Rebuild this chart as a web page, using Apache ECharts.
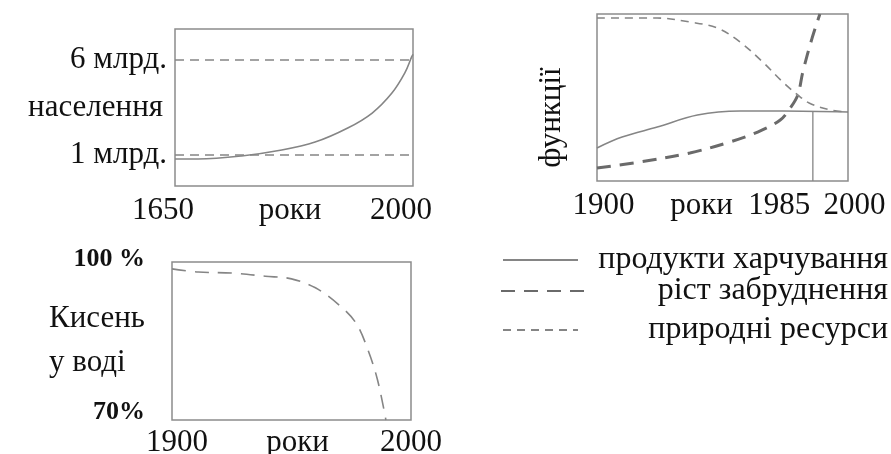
<!DOCTYPE html>
<html>
<head>
<meta charset="utf-8">
<script src="https://cdn.jsdelivr.net/npm/echarts@6/dist/echarts.min.js"></script>
<style>
html, body { margin: 0; padding: 0; background: #fff; }
#main { width: 891px; height: 454px; }
</style>
</head>
<body>
<div id="main"></div>
<script>
// населення (млрд.)
const popYears = [1650, 1684, 1748, 1807, 1856, 1904, 1940, 1969, 1988, 1998, 2000]
const popValues = [0.79, 0.79, 0.95, 1.26, 1.68, 2.42, 3.21, 4.26, 5.32, 6.16, 6.3]
const popRefLines = [1, 6]
const popYTicks = [1, 6]
const popYLabels = ['1 млрд.', '6 млрд.']
const popXTicks = [1650, 2000]
const popXLabels = ['1650', '2000']

// функції
const foodYears = [1900, 1910, 1924, 1940, 1957, 1974, 2000]
const foodValues = [19.8, 26.3, 32.3, 39.5, 41.9, 41.9, 41.3]
const pollutionYears = [1900, 1917, 1937, 1953, 1964, 1973, 1977, 1980, 1982, 1985.7, 1988.8]
const pollutionValues = [7.8, 11.4, 16.8, 23.4, 29.3, 36.5, 43.7, 51.5, 65.3, 85.6, 100]
const resourceYears = [1900, 1924, 1937, 1948, 1957, 1966, 1974, 1980, 1984.5, 1993, 2000]
const resourceValues = [97.6, 97.6, 95.2, 91.6, 83.2, 71.3, 59.3, 51.5, 46.7, 42.5, 41.3]
const markerYears = [1986, 1986]
const markerValues = [0, 41.3]
const fnXTicks = [1900, 1985, 2000]
const fnXLabels = ['1900', '1985', '2000']
const seriesNames = ['продукти харчування', 'ріст забруднення', 'природні ресурси']

// кисень у воді (%)
const oxyYears = [1900, 1911, 1925, 1939, 1950, 1960, 1970, 1977, 1982, 1986, 1989.5]
const oxyValues = [98.7, 98.1, 97.9, 97.3, 96.8, 95.1, 91.8, 88.4, 83.3, 77.6, 70]
const oxyYTicks = [70, 100]
const oxyYLabels = ['70%', '100 %']
const oxyXTicks = [1900, 2000]
const oxyXLabels = ['1900', '2000']

const FONT = 'Liberation Serif'
const INK = '#111'
const LINE = '#858585'
const BOX = '#8c8c8c'

function pairs(xs, ys) {
  return xs.map((x, i) => [x, ys[i]])
}

function pick(values, labels) {
  return function(v) {
    for (let i = 0; i < values.length; i++) {
      if (Math.abs(values[i] - v) < 1e-6) return labels[i]
    }
    return ''
  }
}

const txt = { fontFamily: FONT, fontSize: 31, color: INK }

const gridBase = {
  show: true,
  borderColor: BOX,
  borderWidth: 1.5,
  backgroundColor: '#fff',
  containLabel: false,
  outerBoundsMode: 'none'
}

function xAxisOf(gridIndex, min, max, ticks, labelFn, rich, namePad, gap) {
  return {
    type: 'value',
    gridIndex,
    min,
    max,
    name: 'роки',
    nameLocation: 'middle',
    nameGap: gap + 16,
    nameMoveOverlap: false,
    nameTextStyle: Object.assign({ padding: namePad, verticalAlign: 'middle' }, txt),
    axisLine: { show: false },
    axisTick: { show: false },
    splitLine: { show: false },
    axisLabel: Object.assign({}, txt, {
      customValues: ticks,
      margin: gap,
      formatter: labelFn,
      rich
    })
  }
}

const chart = echarts.init(document.getElementById('main'), null, { renderer: 'canvas' })

const legendItem = (name, left, top, w, textW) => ({
  data: [name],
  left,
  top,
  padding: 0,
  itemWidth: w,
  itemHeight: 12,
  selectedMode: false,
  itemStyle: { opacity: 0 },
  formatter: '{t|{name}}',
  textStyle: {
    rich: { t: { fontFamily: FONT, fontSize: 32, color: INK, width: textW, align: 'right' } }
  }
})

chart.setOption({
  animation: false,
  backgroundColor: '#fff',
  grid: [
    Object.assign({ left: 175, top: 29, width: 238, height: 157 }, gridBase),
    Object.assign({ left: 597, top: 14, width: 251, height: 167 }, gridBase),
    Object.assign({ left: 172, top: 262, width: 239, height: 158 }, gridBase)
  ],
  legend: [
    legendItem(seriesNames[0], 502, 244, 75, 305),
    legendItem(seriesNames[1], 500, 275, 90, 292),
    legendItem(seriesNames[2], 502, 314, 75, 305)
  ],
  xAxis: [
    xAxisOf(0, 1650, 2000, popXTicks, v => '{s|' + pick(popXTicks, popXLabels)(v) + '}',
      { s: Object.assign({ padding: [0, 24, 0, 0] }, txt) }, [0, 8, 0, 0], 9),
    xAxisOf(1, 1900, 2000, fnXTicks, v => {
      const t = pick(fnXTicks, fnXLabels)(v)
      return v === 1985 ? '{l|' + t + '}' : '{r|' + t + '}'
    }, {
      l: Object.assign({ padding: [0, 62, 0, 0] }, txt),
      r: Object.assign({ padding: [0, 0, 0, 13] }, txt)
    }, [0, 42, 0, 0], 9),
    xAxisOf(2, 1900, 2000, oxyXTicks, v => {
      const t = pick(oxyXTicks, oxyXLabels)(v)
      return v === 1900 ? '{r|' + t + '}' : '{s|' + t + '}'
    }, {
      r: Object.assign({ padding: [0, 0, 0, 10] }, txt),
      s: Object.assign({}, txt)
    }, [0, 0, 0, 12], 7)
  ],
  yAxis: [
    {
      type: 'value',
      gridIndex: 0,
      min: -0.63,
      max: 7.63,
      name: 'населення',
      nameLocation: 'middle',
      nameRotate: 0,
      nameGap: 12,
      nameMoveOverlap: false,
      nameTextStyle: Object.assign({ align: 'right', padding: [8, 0, 0, 0] }, txt),
      axisLine: { show: false },
      axisTick: { show: false },
      splitLine: { show: false },
      axisLabel: Object.assign({}, txt, {
        customValues: popYTicks,
        margin: 8,
        formatter: pick(popYTicks, popYLabels)
      })
    },
    {
      type: 'value',
      gridIndex: 1,
      min: 0,
      max: 100,
      name: 'функції',
      nameLocation: 'middle',
      nameRotate: 90,
      nameGap: 30,
      nameMoveOverlap: false,
      nameTextStyle: Object.assign({ padding: [0, 40, 0, 0] }, txt),
      axisLine: { show: false },
      axisTick: { show: false },
      splitLine: { show: false },
      axisLabel: { show: false }
    },
    {
      type: 'value',
      gridIndex: 2,
      min: 70,
      max: 100,
      name: 'Кисень\nу воді',
      nameLocation: 'middle',
      nameRotate: 0,
      nameGap: 123,
      nameMoveOverlap: false,
      nameTextStyle: Object.assign({ align: 'left', lineHeight: 44, padding: [8, 0, 0, 0] }, txt),
      axisLine: { show: false },
      axisTick: { show: false },
      splitLine: { show: false },
      axisLabel: {
        customValues: oxyYTicks,
        margin: 27,
        formatter: v => (v === 70 ? '{lo|' : '{hi|') + pick(oxyYTicks, oxyYLabels)(v) + '}',
        rich: {
          lo: { fontFamily: FONT, fontSize: 26, fontWeight: 'bold', color: INK, padding: [0, 0, 16, 0] },
          hi: { fontFamily: FONT, fontSize: 26, fontWeight: 'bold', color: INK, padding: [0, 0, 6, 0] }
        }
      }
    }
  ],
  series: [
    {
      name: 'населення',
      type: 'line',
      xAxisIndex: 0,
      yAxisIndex: 0,
      data: pairs(popYears, popValues),
      smooth: 0.35,
      symbol: 'none',
      lineStyle: { color: LINE, width: 1.6 },
      markLine: {
        silent: true,
        symbol: 'none',
        label: { show: false },
        lineStyle: { color: LINE, width: 1.6, type: [9, 6] },
        data: popRefLines.map(v => ({ yAxis: v }))
      }
    },
    {
      name: seriesNames[0],
      type: 'line',
      xAxisIndex: 1,
      yAxisIndex: 1,
      data: pairs(foodYears, foodValues),
      smooth: 0.35,
      symbol: 'none',
      lineStyle: { color: LINE, width: 1.6 }
    },
    {
      name: seriesNames[1],
      type: 'line',
      xAxisIndex: 1,
      yAxisIndex: 1,
      data: pairs(pollutionYears, pollutionValues),
      smooth: 0.35,
      symbol: 'none',
      lineStyle: { color: '#6a6a6a', width: 3, type: [14, 9] }
    },
    {
      name: seriesNames[2],
      type: 'line',
      xAxisIndex: 1,
      yAxisIndex: 1,
      data: pairs(resourceYears, resourceValues),
      smooth: 0.35,
      symbol: 'none',
      lineStyle: { color: LINE, width: 1.6, type: [8, 6] }
    },
    {
      name: 'маркер',
      type: 'line',
      xAxisIndex: 1,
      yAxisIndex: 1,
      data: pairs(markerYears, markerValues),
      symbol: 'none',
      lineStyle: { color: LINE, width: 1.3 }
    },
    {
      name: 'кисень',
      type: 'line',
      xAxisIndex: 2,
      yAxisIndex: 2,
      data: pairs(oxyYears, oxyValues),
      smooth: 0.35,
      symbol: 'none',
      lineStyle: { color: LINE, width: 1.6, type: [14, 9] }
    }
  ]
})

window.addEventListener('resize', () => chart.resize())
</script>
</body>
</html>
